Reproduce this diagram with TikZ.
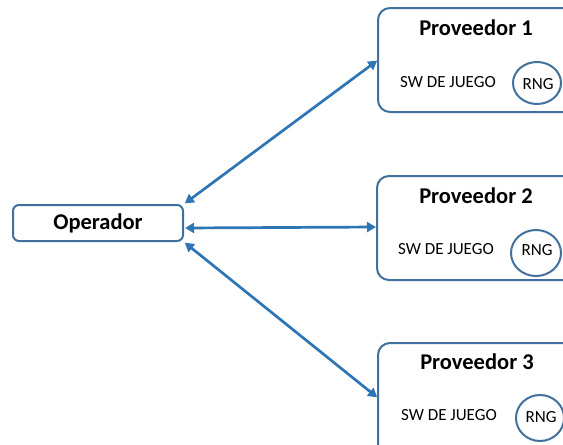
\documentclass[tikz,border=0pt]{standalone}
\usepackage{fontspec}
\setmainfont{Carlito}
\usetikzlibrary{arrows.meta}
\definecolor{boxblue}{HTML}{41719C}
\definecolor{arrowblue}{HTML}{2E75B6}
\begin{document}
\begin{tikzpicture}[x=1pt,y=-1pt,
  prov/.style={draw=boxblue,line width=2pt,rounded corners=12pt,fill=white},
  title/.style={font=\fontsize{22.5}{25}\selectfont\bfseries},
  small/.style={font=\fontsize{17}{20}\selectfont},
  conn/.style={draw=arrowblue,line width=2.7pt,{Triangle[length=9pt,width=10pt]}-{Triangle[length=9pt,width=10pt]},shorten <=1pt,shorten >=1pt}
]
\useasboundingbox (0,0) rectangle (563,445);
\clip (0,0) rectangle (563,445);
% provider boxes
\draw[prov] (378,8) rectangle (600,112);
\draw[prov] (377,176) rectangle (600,280);
\draw[prov] (378,343) rectangle (600,480);
\coordinate (p1) at (378,60);
\coordinate (p2) at (377,227);
\coordinate (p3) at (378,398);
% circles
\draw[prov,rounded corners=0pt] (537,83) ellipse (24pt and 21pt);
\draw[prov,rounded corners=0pt] (536,253) ellipse (25pt and 23pt);
\draw[prov,rounded corners=0pt] (540,418) ellipse (24pt and 23pt);
\node[title] (t1) at (476,28) {Proveedor 1};
\node[title] (t2) at (476,196) {Proveedor 2};
\node[title] (t3) at (477,362) {Proveedor 3};
\node[small] (s1) at (448,82) {SW DE JUEGO};
\node[small] (s2) at (446,249) {SW DE JUEGO};
\node[small] (s3) at (449,415) {SW DE JUEGO};
\node[small] (r1) at (538,84) {RNG};
\node[small] (r2) at (537,250) {RNG};
\node[small] (r3) at (541,417) {RNG};
% operador
\node[draw=boxblue,line width=2pt,rounded corners=6pt,minimum width=170pt,minimum height=36pt,inner sep=0pt,title] (op) at (98,223) {Operador};
\draw[conn] (op.north east) -- (p1);
\draw[conn] ([yshift=-5pt]op.east) -- (p2);
\draw[conn] (op.south east) -- (p3);
\end{tikzpicture}
\end{document}
